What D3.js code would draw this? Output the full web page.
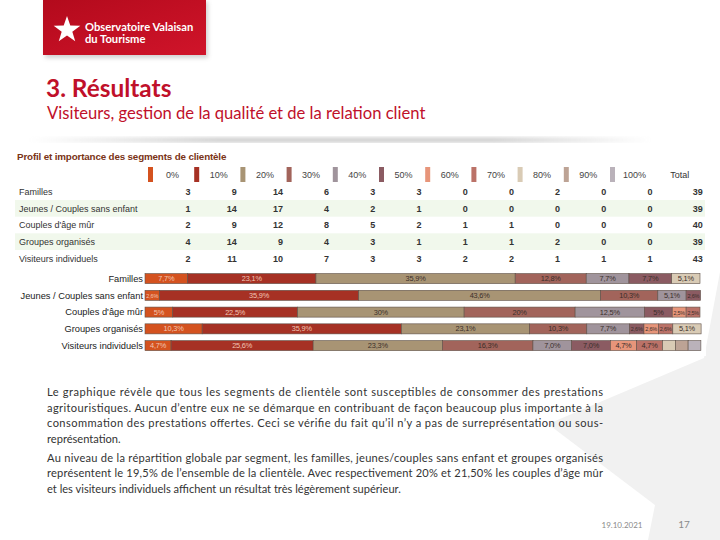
<!DOCTYPE html>
<html><head><meta charset="utf-8">
<script src="https://cdn.jsdelivr.net/npm/d3@7"></script>
<style>html,body{margin:0;padding:0;background:#fff;}svg{display:block;}</style>
</head><body>
<div id="chart"></div>
<script>
// ---------- DATA ----------
const categories = ["Familles","Jeunes / Couples sans enfant","Couples d'âge mûr","Groupes organisés","Visiteurs individuels"];
const levels = ["0%","10%","20%","30%","40%","50%","60%","70%","80%","90%","100%"];
const levelColors = ["#d4521f","#a63124","#a89474","#a2645b","#a0949c","#8b5b62","#e7957a","#bb7268","#d9cbb5","#bda395","#bab2ba"];
// table counts per level
const famillesCounts  = [3,9,14,6,3,3,0,0,2,0,0];
const jeunesCounts    = [1,14,17,4,2,1,0,0,0,0,0];
const couplesCounts   = [2,9,12,8,5,2,1,1,0,0,0];
const groupesCounts   = [4,14,9,4,3,1,1,1,2,0,0];
const visiteursCounts = [2,11,10,7,3,3,2,2,1,1,1];
const totals = [39,39,40,39,43];
// bar percentages per level
const famillesPct  = [7.7,23.1,35.9,12.8,7.7,7.7,0,0,5.1,0,0];
const jeunesPct    = [2.6,35.9,43.6,10.3,5.1,2.6,0,0,0,0,0];
const couplesPct   = [5,22.5,30,20,12.5,5,2.5,2.5,0,0,0];
const groupesPct   = [10.3,35.9,23.1,10.3,7.7,2.6,2.6,2.6,5.1,0,0];
const visiteursPct = [4.7,25.6,23.3,16.3,6.98,6.98,4.7,4.7,2.3,2.3,2.3];

const countRows = [famillesCounts,jeunesCounts,couplesCounts,groupesCounts,visiteursCounts];
const pctRows = [famillesPct,jeunesPct,couplesPct,groupesPct,visiteursPct];

const W = 720, H = 540;
const svg = d3.select("#chart").append("svg").attr("width",W).attr("height",H);
const defs = svg.append("defs");

// ---------- background watermark star ----------
svg.append("polygon")
  .attr("points",[[720,272],[704,358],[548,424],[655,505],[648,540],[720,540]].map(p=>p.join(",")).join(" "))
  .attr("fill","#f1f1f1");

// ---------- logo ----------
const lg = defs.append("linearGradient").attr("id","logoG").attr("x1",0).attr("y1",0).attr("x2",1).attr("y2",1);
lg.append("stop").attr("offset","0%").attr("stop-color","#b30a1c");
lg.append("stop").attr("offset","100%").attr("stop-color","#d0142a");
const sh = defs.append("filter").attr("id","blur2").attr("x","-20%").attr("y","-50%").attr("width","140%").attr("height","200%");
sh.append("feGaussianBlur").attr("stdDeviation",2);
svg.append("rect").attr("x",45).attr("y",2).attr("width",163).attr("height",56).attr("fill","#999").attr("opacity",0.45).attr("filter","url(#blur2)");
svg.append("rect").attr("x",43).attr("y",0).attr("width",163).attr("height",55).attr("fill","url(#logoG)");
function starPts(cx,cy,R,r){const p=[];for(let i=0;i<10;i++){const a=-Math.PI/2+i*Math.PI/5;const rr=i%2?r:R;p.push([cx+rr*Math.cos(a),cy+rr*Math.sin(a)]);}return p.map(d=>d.join(",")).join(" ");}
svg.append("polygon").attr("points",starPts(67,30,14,5.6)).attr("fill","#fff");
svg.append("text").attr("x",85).attr("y",31).text("Observatoire Valaisan")
  .attr("font-family","Lato, 'Open Sans', sans-serif").attr("font-weight","bold").attr("font-size",11.2).attr("fill","#fff");
svg.append("text").attr("x",85).attr("y",42.5).text("du Tourisme")
  .attr("font-family","Lato, 'Open Sans', sans-serif").attr("font-weight","bold").attr("font-size",11.2).attr("fill","#fff");

// ---------- titles ----------
svg.append("text").attr("x",46).attr("y",97).text("3. Résultats")
  .attr("font-family","Lato, sans-serif").attr("font-weight","bold").attr("font-size",24.4).attr("fill","#c0102a");
svg.append("text").attr("x",47).attr("y",119).text("Visiteurs, gestion de la qualité et de la relation client")
  .attr("font-family","Lato, sans-serif").attr("font-size",16.6).attr("fill","#c0102a");

// shadow above chart
const sg = defs.append("linearGradient").attr("id","shG");
sg.append("stop").attr("offset","0%").attr("stop-color","#bbb").attr("stop-opacity",0);
sg.append("stop").attr("offset","30%").attr("stop-color","#bbb").attr("stop-opacity",0.9);
sg.append("stop").attr("offset","75%").attr("stop-color","#bbb").attr("stop-opacity",0.9);
sg.append("stop").attr("offset","100%").attr("stop-color","#bbb").attr("stop-opacity",0);
svg.append("rect").attr("x",30).attr("y",138).attr("width",620).attr("height",4).attr("fill","url(#shG)").attr("filter","url(#blur2)");
svg.append("rect").attr("x",8).attr("y",143).attr("width",698).attr("height",213).attr("fill","#fff");

// ---------- chart header ----------
const F = "'Liberation Sans', Arial, sans-serif";
svg.append("text").attr("x",17).attr("y",160).text("Profil et importance des segments de clientèle")
  .attr("font-family",F).attr("font-weight","bold").attr("font-size",9.8).attr("letter-spacing",-0.15).attr("fill","#7a3316");

// ---------- table ----------
const colX = d3.scaleBand().domain([...levels,"Total"]).range([145.5,145.5+12*46.2]);
const rowY = d3.scaleBand().domain(categories).range([183.4,266.6]);

// alternating row backgrounds
svg.selectAll("rect.rowbg").data(categories.filter((d,i)=>i%2===1)).join("rect")
  .attr("x",15).attr("width",690).attr("y",d=>rowY(d)).attr("height",rowY.bandwidth())
  .attr("fill","#f1f8ec");

// legend header
svg.selectAll("rect.sw").data(levels).join("rect")
  .attr("x",d=>colX(d)+2.5).attr("y",167).attr("width",5).attr("height",15)
  .attr("fill",(d,i)=>levelColors[i]);
svg.selectAll("text.lvl").data(levels).join("text")
  .attr("x",d=>colX(d)+27).attr("y",178).attr("text-anchor","middle").text(d=>d)
  .attr("font-family",F).attr("font-size",9).attr("fill","#444");
svg.append("text").attr("x",colX("Total")+26).attr("y",178).attr("text-anchor","middle").text("Total")
  .attr("font-family",F).attr("font-size",9).attr("fill","#333");

categories.forEach((c,ri)=>{
  const yb = rowY(c)+rowY.bandwidth()/2+3.3;
  svg.append("text").attr("x",19).attr("y",yb).text(c)
    .attr("font-family",F).attr("font-size",9).attr("fill","#333");
  svg.selectAll(null).data(countRows[ri]).join("text")
    .attr("x",(d,i)=>colX(levels[i])+45).attr("y",yb).attr("text-anchor","end").text(d=>d)
    .attr("font-family",F).attr("font-weight","bold").attr("font-size",9).attr("fill","#333");
  svg.append("text").attr("x",colX("Total")+49).attr("y",yb).attr("text-anchor","end").text(totals[ri])
    .attr("font-family",F).attr("font-weight","bold").attr("font-size",9).attr("fill","#333");
});

// ---------- stacked bars ----------
const x = d3.scaleLinear().domain([0,100]).range([145,700]);
const y = d3.scaleBand().domain(categories).range([270.2,354]).paddingInner(0.4).paddingOuter(0.2);
const fmt = v => Number.isInteger(v) ? v+"%" : v.toFixed(1).replace(".",",")+"%";

categories.forEach((c,ri)=>{
  let cum = 0;
  const segs = pctRows[ri].map((v,i)=>{const s={v,i,x0:cum,x1:cum+v};cum+=v;return s;}).filter(s=>s.v>0);
  const g = svg.append("g");
  g.selectAll("rect").data(segs).join("rect")
    .attr("x",s=>x(s.x0)).attr("width",s=>x(s.x1)-x(s.x0))
    .attr("y",y(c)).attr("height",y.bandwidth())
    .attr("fill",s=>levelColors[s.i]).attr("stroke","#5e5048").attr("stroke-width",0.6);
  g.selectAll("text").data(segs.filter(s=>s.v>=2.5)).join("text")
    .attr("x",s=>(x(s.x0)+x(s.x1))/2).attr("y",y(c)+y.bandwidth()/2+2.4)
    .attr("text-anchor","middle").text(s=>fmt(s.v))
    .attr("font-family",F)
    .attr("font-size",s=>{const w=x(s.x1)-x(s.x0);const L=fmt(s.v).length;return Math.min(7.4,(w-2)/(L*0.56));})
    .attr("letter-spacing",-0.2)
    .attr("fill",s=>s.i<=1 ? "#f2c6b4" : "#3a2e2a");
  svg.append("text").attr("x",143).attr("y",y(c)+y.bandwidth()/2+3.3).attr("text-anchor","end").text(c)
    .attr("font-family",F).attr("font-size",9.3).attr("fill","#222");
});

// ---------- body text ----------
const TF = "Lato, 'Open Sans', sans-serif";
const lines = [
  {t:"Le graphique révèle que tous les segments de clientèle sont susceptibles de consommer des prestations", y:396, j:true},
  {t:"agritouristiques. Aucun d’entre eux ne se démarque en contribuant de façon beaucoup plus importante à la", y:411.5, j:true},
  {t:"consommation des prestations offertes.  Ceci se vérifie du fait qu’il n’y a pas de surreprésentation ou sous-", y:427, j:true},
  {t:"représentation.", y:442.5, j:false},
  {t:"Au niveau de la répartition globale par segment, les familles, jeunes/couples sans enfant et groupes organisés", y:461.5, j:true},
  {t:"représentent le 19,5% de l’ensemble de la clientèle. Avec respectivement 20% et 21,50% les couples d’âge mûr", y:477, j:true},
  {t:"et les visiteurs individuels affichent un résultat très légèrement supérieur.", y:492.5, j:false}
];
lines.forEach(l=>{
  const t = svg.append("text").attr("x",47).attr("y",l.y).text(l.t)
    .attr("font-family",TF).attr("font-size",11.1).attr("fill","#333");
  if(l.j) t.attr("textLength",556).attr("lengthAdjust","spacing");
});

// ---------- footer ----------
svg.append("text").attr("x",622).attr("y",528).attr("text-anchor","middle").text("19.10.2021")
  .attr("font-family",TF).attr("font-size",8).attr("fill","#8a8a8a");
svg.append("text").attr("x",684).attr("y",528).attr("text-anchor","middle").text("17")
  .attr("font-family",TF).attr("font-size",10).attr("fill","#8a8a8a");
</script>
</body></html>
